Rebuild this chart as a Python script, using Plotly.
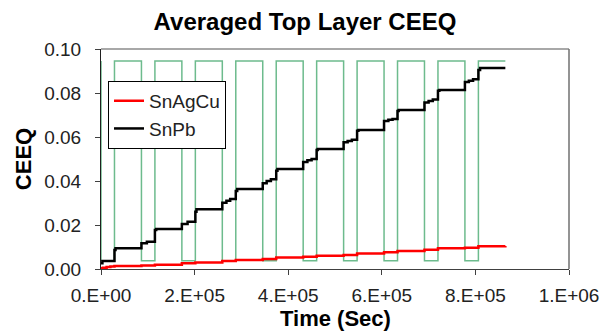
import plotly.graph_objects as go

# ---- data ----
cycle_fall_times = [0, 86400, 172800, 259200, 345600, 432000, 518400, 604800, 691200, 777600]
cycle_rise_times = [28800, 115200, 201600, 288000, 374400, 460800, 547200, 633600, 720000, 806400]
cycle_end_time = 864000
profile_high = 0.0945
profile_low = 0.0038

snpb_t = [0, 3000, 28800, 31000, 86400, 98000, 115200, 118000, 172800, 185000,
          201600, 204000, 259200, 268000, 276000, 288000, 291000, 345600, 354000, 363000,
          374400, 377000, 432000, 441000, 450000, 460800, 463000, 518400, 527000, 536000,
          547200, 550000, 604800, 614000, 623000, 633600, 636000, 691200, 700000, 709000,
          720000, 723000, 777600, 786000, 795000, 806400, 810000, 864000]
snpb_v = [0.0026, 0.0036, 0.0086, 0.0094, 0.0117, 0.0124, 0.0177, 0.0182, 0.0205, 0.0215,
          0.0260, 0.0272, 0.0301, 0.0310, 0.0318, 0.0355, 0.0364, 0.0390, 0.0400, 0.0408,
          0.0447, 0.0455, 0.0486, 0.0494, 0.0500, 0.0541, 0.0545, 0.0576, 0.0582, 0.0588,
          0.0628, 0.0632, 0.0673, 0.0678, 0.0682, 0.0718, 0.0723, 0.0757, 0.0764, 0.0770,
          0.0810, 0.0814, 0.0850, 0.0856, 0.0862, 0.0905, 0.0914, 0.0914]

snagcu_t = [0, 4000, 12000, 20000, 28800, 86400, 115200, 172800, 201600, 259200,
            288000, 345600, 374400, 432000, 460800, 518400, 547200, 604800, 633600,
            691200, 720000, 777600, 806400, 864000]
snagcu_v = [0.0003, 0.0006, 0.0009, 0.0011, 0.0014, 0.0016, 0.0019, 0.0026, 0.0030, 0.0036,
            0.0041, 0.0045, 0.0052, 0.0056, 0.0060, 0.0064, 0.0070, 0.0076, 0.0082,
            0.0088, 0.0094, 0.0097, 0.0103, 0.0104]

x_tickvals = [0, 200000, 400000, 600000, 800000, 1000000]
x_ticktext = ["0.E+00", "2.E+05", "4.E+05", "6.E+05", "8.E+05", "1.E+06"]
y_tickvals = [0, 0.02, 0.04, 0.06, 0.08, 0.10]
y_ticktext = ["0.00", "0.02", "0.04", "0.06", "0.08", "0.10"]

# ---- build square-wave profile from transition times ----
prof_t, prof_v = [], []
for f, r in zip(cycle_fall_times, cycle_rise_times):
    prof_t += [f, f, r, r]
    prof_v += [profile_high, profile_low, profile_low, profile_high]
prof_t.append(cycle_end_time)
prof_v.append(profile_high)

fig = go.Figure()
fig.add_trace(go.Scatter(x=prof_t, y=prof_v, mode="lines",
                         line=dict(color="#6dbb8d", width=1.5), showlegend=False,
                         hoverinfo="skip"))
fig.add_trace(go.Scatter(x=snagcu_t, y=snagcu_v, mode="lines", name="SnAgCu",
                         line=dict(color="#ff0000", width=2.5, shape="hv"),
                         legendgroup="a"))
fig.add_trace(go.Scatter(x=snpb_t, y=snpb_v, mode="lines", name="SnPb",
                         line=dict(color="#000000", width=2.5, shape="hv"),
                         legendgroup="b"))

font_family = "Arial, Liberation Sans, sans-serif"

fig.update_layout(
    width=610, height=333,
    margin=dict(l=101, r=41, t=49, b=64),
    paper_bgcolor="white", plot_bgcolor="white",
    font=dict(family=font_family, color="#222222"),
    title=dict(text="<b>Averaged Top Layer CEEQ</b>", x=0.5, xref="container",
               y=0.935, yref="container", yanchor="middle", xanchor="center",
               font=dict(size=24, color="#000000", family=font_family)),
    xaxis=dict(range=[0, 1000000], tickvals=x_tickvals, ticktext=x_ticktext,
               showgrid=False, zeroline=False, showline=True, linecolor="#404040",
               linewidth=1, ticks="outside", ticklen=5, tickcolor="#404040",
               ticklabelstandoff=4, automargin=False,
               tickfont=dict(size=19, color="#222222")),
    yaxis=dict(range=[0, 0.1], tickvals=y_tickvals, ticktext=y_ticktext,
               showgrid=False, zeroline=False, showline=True, linecolor="#202020",
               linewidth=1, ticks="outside", ticklen=5, tickcolor="#404040",
               ticklabelstandoff=10, automargin=False,
               tickfont=dict(size=19, color="#222222"),
               title=dict(text="<b>CEEQ</b>", font=dict(size=22, color="#000000"),
                          standoff=6)),
    legend=dict(x=0.015, y=0.855, xanchor="left", yanchor="top",
                bgcolor="white", bordercolor="#000000", borderwidth=1,
                font=dict(size=19, color="#222222"), traceorder="grouped",
                tracegroupgap=0, itemwidth=30),
    annotations=[
        dict(text="<b>Time (Sec)</b>", xref="paper", yref="paper", x=0.5, y=-0.227,
             xanchor="center", yanchor="middle", showarrow=False,
             font=dict(size=22, color="#000000", family=font_family)),
    ],
    shapes=[
        dict(type="line", xref="paper", yref="paper", x0=0, x1=1, y0=1, y1=1,
             line=dict(color="#a8a8a8", width=2)),
        dict(type="line", xref="paper", yref="paper", x0=1, x1=1, y0=0, y1=1,
             line=dict(color="#707070", width=1.5)),
    ],
)

fig.write_html("out.html")
